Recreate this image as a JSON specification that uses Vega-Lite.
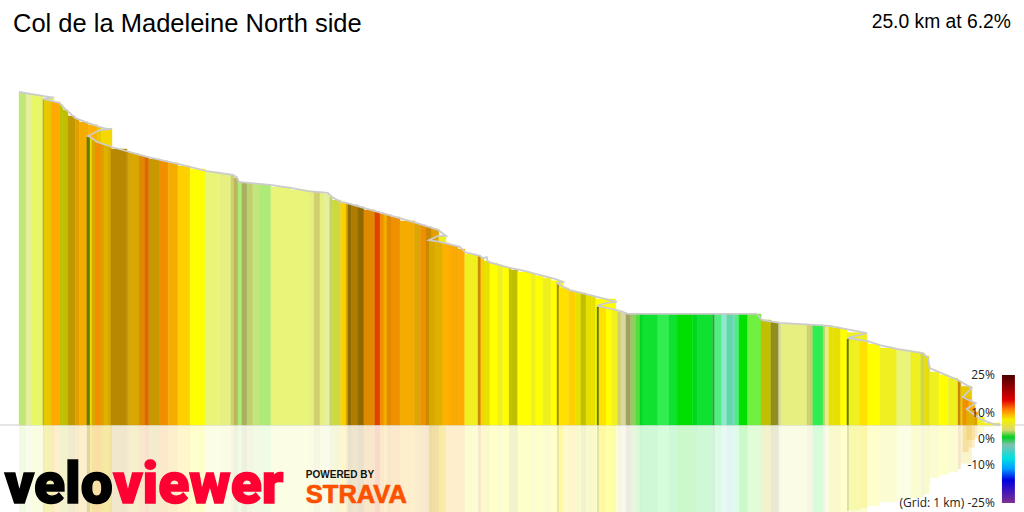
{
  "$schema": "https://vega.github.io/schema/vega-lite/v6.json",
  "description": "Climb profile, coloured by gradient, with a faded reflection under the baseline.",
  "width": 1024,
  "height": 512,
  "padding": 0,
  "autosize": {"type": "none"},
  "background": "white",
  "title": {"text": "Col de la Madeleine North side", "anchor": "start", "frame": "group", "offset": -57, "dx": 13, "baseline": "alphabetic", "font": "Liberation Sans", "fontSize": 25.5, "fontWeight": "normal", "color": "#000000"},
  "config": {"view": {"stroke": null}},
  "datasets": {
    "segments": [
      {"from":0,"to":0.18,"elev":1545,"shade":"s01"},{"from":0.18,"to":0.33,"elev":1541,"shade":"s02"},{"from":0.33,"to":0.61,"elev":1536,"shade":"s03"},{"from":0.61,"to":0.89,"elev":1522,"shade":"s03"},
      {"from":0.61,"to":0.64,"elev":1518,"shade":"s04"},{"from":0.64,"to":0.82,"elev":1513,"shade":"s05"},{"from":0.82,"to":1.04,"elev":1504,"shade":"s06"},{"from":1.04,"to":1.12,"elev":1490,"shade":"s07"},{"from":1.12,"to":1.25,"elev":1466,"shade":"s07"},{"from":1.25,"to":1.43,"elev":1438,"shade":"s08"},{"from":1.43,"to":1.53,"elev":1424,"shade":"s09"},{"from":1.53,"to":1.76,"elev":1410,"shade":"s10"},{"from":1.76,"to":1.99,"elev":1397,"shade":"s52"},{"from":1.99,"to":2.09,"elev":1387,"shade":"s05"},{"from":2.09,"to":2.37,"elev":1378,"shade":"s11"},
      {"from":1.73,"to":1.81,"elev":1341,"shade":"s12"},{"from":1.81,"to":1.86,"elev":1336,"shade":"s13"},{"from":1.86,"to":1.94,"elev":1327,"shade":"s14"},{"from":1.94,"to":2.09,"elev":1313,"shade":"s15"},{"from":2.09,"to":2.17,"elev":1308,"shade":"s09"},{"from":2.17,"to":2.27,"elev":1303,"shade":"s16"},{"from":2.27,"to":2.34,"elev":1299,"shade":"s14"},{"from":2.34,"to":2.75,"elev":1285,"shade":"s17"},{"from":2.75,"to":2.8,"elev":1271,"shade":"s18"},{"from":2.8,"to":2.93,"elev":1266,"shade":"s14"},{"from":2.93,"to":3.06,"elev":1262,"shade":"s14"},{"from":3.06,"to":3.21,"elev":1252,"shade":"s32"},{"from":3.21,"to":3.31,"elev":1248,"shade":"s19"},{"from":3.31,"to":3.59,"elev":1238,"shade":"s18"},{"from":3.59,"to":3.8,"elev":1229,"shade":"s15"},{"from":3.8,"to":4.05,"elev":1220,"shade":"s10"},{"from":4.05,"to":4.36,"elev":1206,"shade":"s20"},{"from":4.36,"to":4.74,"elev":1192,"shade":"s21"},{"from":4.74,"to":5.12,"elev":1178,"shade":"s22"},{"from":5.12,"to":5.4,"elev":1168,"shade":"s23"},{"from":5.4,"to":5.48,"elev":1164,"shade":"s24"},{"from":5.48,"to":5.58,"elev":1150,"shade":"s25"},
      {"from":5.58,"to":5.68,"elev":1131,"shade":"s26"},{"from":5.68,"to":5.81,"elev":1127,"shade":"s27"},{"from":5.81,"to":5.96,"elev":1127,"shade":"s28"},{"from":5.96,"to":6.14,"elev":1122,"shade":"s01"},{"from":6.14,"to":6.42,"elev":1117,"shade":"s26"},{"from":6.42,"to":6.93,"elev":1108,"shade":"s22"},{"from":6.93,"to":7.39,"elev":1094,"shade":"s22"},{"from":7.39,"to":7.52,"elev":1089,"shade":"s23"},{"from":7.52,"to":7.67,"elev":1085,"shade":"s24"},{"from":7.67,"to":7.77,"elev":1085,"shade":"s23"},{"from":7.77,"to":7.92,"elev":1075,"shade":"s02"},{"from":7.92,"to":7.98,"elev":1061,"shade":"s28"},{"from":7.98,"to":8.2,"elev":1047,"shade":"s29"},{"from":8.2,"to":8.33,"elev":1038,"shade":"s20"},{"from":8.33,"to":8.38,"elev":1033,"shade":"s14"},{"from":8.38,"to":8.48,"elev":1029,"shade":"s30"},{"from":8.48,"to":8.64,"elev":1024,"shade":"s31"},{"from":8.64,"to":8.79,"elev":1015,"shade":"s30"},{"from":8.79,"to":9.07,"elev":1001,"shade":"s32"},{"from":9.07,"to":9.2,"elev":992,"shade":"s33"},{"from":9.2,"to":9.3,"elev":987,"shade":"s15"},{"from":9.3,"to":9.38,"elev":982,"shade":"s10"},{"from":9.38,"to":9.48,"elev":978,"shade":"s32"},{"from":9.48,"to":9.71,"elev":968,"shade":"s15"},{"from":9.71,"to":10.09,"elev":950,"shade":"s10"},{"from":10.09,"to":10.17,"elev":940,"shade":"s14"},{"from":10.17,"to":10.24,"elev":936,"shade":"s09"},{"from":10.24,"to":10.37,"elev":931,"shade":"s15"},{"from":10.37,"to":10.52,"elev":922,"shade":"s35"},{"from":10.52,"to":10.7,"elev":912,"shade":"s09"},{"from":10.7,"to":10.88,"elev":880,"shade":"s34"},
      {"from":10.45,"to":10.6,"elev":857,"shade":"s14"},{"from":10.6,"to":10.8,"elev":852,"shade":"s16"},{"from":10.8,"to":10.96,"elev":847,"shade":"s52"},{"from":10.96,"to":11.06,"elev":838,"shade":"s06"},{"from":11.06,"to":11.19,"elev":833,"shade":"s10"},{"from":11.19,"to":11.36,"elev":819,"shade":"s06"},{"from":11.36,"to":11.57,"elev":796,"shade":"s34"},{"from":11.57,"to":11.7,"elev":791,"shade":"s34"},{"from":11.7,"to":11.77,"elev":787,"shade":"s35"},{"from":11.77,"to":11.85,"elev":777,"shade":"s20"},{"from":11.85,"to":12,"elev":763,"shade":"s13"},{"from":12,"to":12.2,"elev":754,"shade":"s21"},{"from":12.2,"to":12.33,"elev":745,"shade":"s34"},{"from":12.33,"to":12.49,"elev":735,"shade":"s21"},{"from":12.49,"to":12.54,"elev":731,"shade":"s07"},{"from":12.54,"to":12.71,"elev":722,"shade":"s07"},{"from":12.71,"to":13.05,"elev":712,"shade":"s21"},{"from":13.05,"to":13.17,"elev":703,"shade":"s34"},{"from":13.17,"to":13.35,"elev":694,"shade":"s21"},{"from":13.35,"to":13.56,"elev":684,"shade":"s34"},{"from":13.56,"to":13.86,"elev":672,"shade":"s21"},
      {"from":13.71,"to":13.76,"elev":656,"shade":"s37"},{"from":13.76,"to":14.01,"elev":638,"shade":"s36"},{"from":14.01,"to":14.19,"elev":624,"shade":"s20"},{"from":14.19,"to":14.32,"elev":619,"shade":"s13"},{"from":14.32,"to":14.45,"elev":614,"shade":"s07"},{"from":14.45,"to":14.6,"elev":605,"shade":"s13"},{"from":14.6,"to":14.7,"elev":600,"shade":"s13"},{"from":14.7,"to":15.21,"elev":587,"shade":"s21"},
      {"from":14.73,"to":14.78,"elev":549,"shade":"s12"},{"from":14.78,"to":14.96,"elev":545,"shade":"s36"},{"from":14.96,"to":15.11,"elev":540,"shade":"s21"},{"from":15.11,"to":15.26,"elev":531,"shade":"s34"},{"from":15.26,"to":15.34,"elev":526,"shade":"s24"},{"from":15.34,"to":15.47,"elev":521,"shade":"s53"},{"from":15.47,"to":15.59,"elev":517,"shade":"s51"},{"from":15.59,"to":15.72,"elev":517,"shade":"s38"},{"from":15.72,"to":15.82,"elev":517,"shade":"s39"},{"from":15.82,"to":15.9,"elev":517,"shade":"s40"},{"from":15.9,"to":16.28,"elev":517,"shade":"s41"},{"from":16.28,"to":16.56,"elev":517,"shade":"s42"},{"from":16.56,"to":16.77,"elev":517,"shade":"s41"},{"from":16.77,"to":17.17,"elev":517,"shade":"s43"},{"from":17.17,"to":17.28,"elev":517,"shade":"s40"},{"from":17.28,"to":17.68,"elev":517,"shade":"s41"},{"from":17.68,"to":17.73,"elev":517,"shade":"s44"},{"from":17.73,"to":17.91,"elev":517,"shade":"s45"},{"from":17.91,"to":18.04,"elev":517,"shade":"s46"},{"from":18.04,"to":18.17,"elev":517,"shade":"s47"},{"from":18.17,"to":18.24,"elev":517,"shade":"s48"},{"from":18.24,"to":18.35,"elev":517,"shade":"s45"},{"from":18.35,"to":18.57,"elev":517,"shade":"s43"},{"from":18.57,"to":18.91,"elev":517,"shade":"s49"},{"from":18.91,"to":19.16,"elev":489,"shade":"s07"},{"from":19.16,"to":19.36,"elev":479,"shade":"s50"},{"from":19.36,"to":19.42,"elev":475,"shade":"s53"},{"from":19.42,"to":20.08,"elev":470,"shade":"s23"},{"from":20.08,"to":20.15,"elev":465,"shade":"s24"},{"from":20.15,"to":20.23,"elev":465,"shade":"s28"},{"from":20.23,"to":20.49,"elev":465,"shade":"s42"},{"from":20.49,"to":20.54,"elev":461,"shade":"s28"},{"from":20.54,"to":20.64,"elev":461,"shade":"s23"},{"from":20.64,"to":20.74,"elev":456,"shade":"s13"},{"from":20.74,"to":20.94,"elev":452,"shade":"s13"},{"from":20.94,"to":21.1,"elev":447,"shade":"s21"},{"from":21.1,"to":21.61,"elev":430,"shade":"s34"},
      {"from":21.1,"to":21.15,"elev":400,"shade":"s12"},{"from":21.15,"to":21.43,"elev":396,"shade":"s34"},{"from":21.43,"to":21.63,"elev":386,"shade":"s36"},{"from":21.63,"to":21.94,"elev":377,"shade":"s21"},{"from":21.94,"to":22.37,"elev":358,"shade":"s34"},{"from":22.37,"to":22.73,"elev":349,"shade":"s22"},{"from":22.73,"to":22.98,"elev":340,"shade":"s34"},{"from":22.98,"to":23.08,"elev":335,"shade":"s29"},{"from":23.08,"to":23.19,"elev":321,"shade":"s13"},{"from":23.19,"to":23.21,"elev":279,"shade":"s24"},{"from":23.21,"to":23.45,"elev":247,"shade":"s34"},{"from":23.45,"to":23.68,"elev":233,"shade":"s21"},{"from":23.68,"to":23.93,"elev":219,"shade":"s34"},{"from":23.93,"to":24,"elev":205,"shade":"s35"},{"from":24,"to":24.28,"elev":180,"shade":"s05"},
      {"from":24.05,"to":24.2,"elev":126,"shade":"s15"},{"from":24.2,"to":24.36,"elev":105,"shade":"s06"},{"from":24.15,"to":24.36,"elev":70,"shade":"s16"},{"from":24.36,"to":24.43,"elev":61,"shade":"s09"},{"from":24.43,"to":24.6,"elev":37,"shade":"s34"},{"from":24.6,"to":25,"elev":9,"shade":"s34"}
    ],
    "profile": [
      {"seq":1,"km":0,"elev":1550},{"seq":2,"km":0.64,"elev":1531},{"seq":3,"km":0.89,"elev":1524},{"seq":4,"km":0.61,"elev":1518},{"seq":5,"km":1.04,"elev":1499},{"seq":6,"km":1.12,"elev":1480},{"seq":7,"km":1.3,"elev":1452},{"seq":8,"km":1.43,"elev":1429},{"seq":9,"km":1.76,"elev":1406},{"seq":10,"km":2.06,"elev":1387},{"seq":11,"km":2.24,"elev":1378},{"seq":12,"km":2.37,"elev":1378},{"seq":13,"km":2.06,"elev":1373},{"seq":14,"km":1.76,"elev":1345},{"seq":15,"km":1.86,"elev":1336},{"seq":16,"km":1.99,"elev":1317},{"seq":17,"km":2.37,"elev":1294},{"seq":18,"km":3.26,"elev":1248},{"seq":19,"km":4.05,"elev":1215},{"seq":20,"km":4.79,"elev":1182},{"seq":21,"km":5.45,"elev":1164},{"seq":22,"km":5.55,"elev":1154},{"seq":23,"km":5.61,"elev":1131},{"seq":24,"km":6.14,"elev":1122},{"seq":25,"km":6.45,"elev":1117},{"seq":26,"km":6.96,"elev":1103},{"seq":27,"km":7.36,"elev":1089},{"seq":28,"km":7.87,"elev":1080},{"seq":29,"km":7.98,"elev":1061},{"seq":30,"km":8.2,"elev":1038},{"seq":31,"km":8.36,"elev":1033},{"seq":32,"km":9.07,"elev":996},{"seq":33,"km":10.14,"elev":940},{"seq":34,"km":10.68,"elev":908},{"seq":35,"km":10.88,"elev":880},{"seq":36,"km":10.68,"elev":880},{"seq":37,"km":10.45,"elev":861},{"seq":38,"km":10.73,"elev":852},{"seq":39,"km":11.24,"elev":829},{"seq":40,"km":11.36,"elev":805},{"seq":41,"km":11.75,"elev":787},{"seq":42,"km":11.82,"elev":777},{"seq":43,"km":11.92,"elev":782},{"seq":44,"km":11.95,"elev":759},{"seq":45,"km":12.51,"elev":731},{"seq":46,"km":12.77,"elev":722},{"seq":47,"km":13.66,"elev":680},{"seq":48,"km":13.86,"elev":666},{"seq":49,"km":13.71,"elev":661},{"seq":50,"km":13.78,"elev":652},{"seq":51,"km":14.04,"elev":628},{"seq":52,"km":14.73,"elev":596},{"seq":53,"km":15.24,"elev":573},{"seq":54,"km":14.98,"elev":568},{"seq":55,"km":14.73,"elev":554},{"seq":56,"km":14.98,"elev":545},{"seq":57,"km":15.31,"elev":531},{"seq":58,"km":15.52,"elev":517},{"seq":59,"km":18.8,"elev":517},{"seq":60,"km":18.93,"elev":489},{"seq":61,"km":19.39,"elev":475},{"seq":62,"km":20.66,"elev":461},{"seq":63,"km":21.61,"elev":428},{"seq":64,"km":21.12,"elev":405},{"seq":65,"km":21.61,"elev":391},{"seq":66,"km":21.94,"elev":372},{"seq":67,"km":22.37,"elev":354},{"seq":68,"km":23.03,"elev":335},{"seq":69,"km":23.16,"elev":312},{"seq":70,"km":23.21,"elev":265},{"seq":71,"km":23.93,"elev":209},{"seq":72,"km":24.28,"elev":172},{"seq":73,"km":24.05,"elev":130},{"seq":74,"km":24.38,"elev":102},{"seq":75,"km":24.15,"elev":74},{"seq":76,"km":24.49,"elev":28},{"seq":77,"km":24.82,"elev":5},{"seq":78,"km":25,"elev":0}
    ]
  },
  "resolve": {"scale": {"y": "independent"}},
  "layer": [
    {
      "data": {"name": "segments"},
      "mark": {"type": "rect", "opacity": 0.2},
      "encoding": {
        "x": {"field": "from", "type": "quantitative", "scale": {"domain": [0, 25], "range": [19, 1000]}, "axis": null},
        "x2": {"field": "to"},
        "y": {"field": "elev", "type": "quantitative", "scale": {"domain": [0, 1550], "range": [425, 758]}, "axis": null},
        "y2": {"datum": 0},
        "color": {"field": "shade", "type": "nominal", "legend": null, "scale": {
          "domain": ["s01","s02","s03","s04","s05","s06","s07","s08","s09","s10","s11","s12","s13","s14","s15","s16","s17","s18","s19","s20","s21","s22","s23","s24","s25","s26","s27","s28","s29","s30","s31","s32","s33","s34","s35","s36","s37","s38","s39","s40","s41","s42","s43","s44","s45","s46","s47","s48","s49","s50","s51","s52","s53"],
          "range": ["#c3e67a","#e6ef9a","#e9f765","#a8a850","#e8c800","#ffaa00","#c0c000","#c09800","#e0a000","#f5ac00","#f5d800","#5f7a00","#e8e000","#d8a800","#f09000","#e0b000","#b88800","#c89800","#e06800","#ffd000","#ffff00","#e9f578","#e6ef80","#d0d070","#b8b860","#aeea78","#a8b060","#c0d070","#d0d840","#8f6a00","#b07c00","#e08800","#e04000","#f0f020","#c88800","#ffe000","#a08c00","#90d060","#50e040","#00d820","#10e030","#30ee50","#00e000","#30a040","#50ee80","#90e8d0","#60d8a8","#70d8c0","#70f040","#8f8f20","#a0a060","#ffb000","#d8d8a0"]
        }}
      }
    },
    {
      "data": {"values": [{"km": 0, "elev": 0}]},
      "mark": {"type": "rule", "color": "#dddddd", "strokeWidth": 1.5},
      "encoding": {
        "y": {"field": "elev", "type": "quantitative", "scale": {"domain": [0, 1550], "range": [425, 92]}, "axis": null}
      }
    },
    {
      "data": {"name": "segments"},
      "mark": {"type": "rect", "strokeWidth": 0.4},
      "encoding": {
        "x": {"field": "from", "type": "quantitative", "scale": {"domain": [0, 25], "range": [19, 1000]}, "axis": null},
        "x2": {"field": "to"},
        "y": {"field": "elev", "type": "quantitative", "scale": {"domain": [0, 1550], "range": [425, 92]}, "axis": null},
        "y2": {"datum": 0},
        "color": {"field": "shade", "type": "nominal", "legend": null},
        "stroke": {"field": "shade", "type": "nominal", "legend": null, "scale": {
          "domain": ["s01","s02","s03","s04","s05","s06","s07","s08","s09","s10","s11","s12","s13","s14","s15","s16","s17","s18","s19","s20","s21","s22","s23","s24","s25","s26","s27","s28","s29","s30","s31","s32","s33","s34","s35","s36","s37","s38","s39","s40","s41","s42","s43","s44","s45","s46","s47","s48","s49","s50","s51","s52","s53"],
          "range": ["#c3e67a","#e6ef9a","#e9f765","#a8a850","#e8c800","#ffaa00","#c0c000","#c09800","#e0a000","#f5ac00","#f5d800","#5f7a00","#e8e000","#d8a800","#f09000","#e0b000","#b88800","#c89800","#e06800","#ffd000","#ffff00","#e9f578","#e6ef80","#d0d070","#b8b860","#aeea78","#a8b060","#c0d070","#d0d840","#8f6a00","#b07c00","#e08800","#e04000","#f0f020","#c88800","#ffe000","#a08c00","#90d060","#50e040","#00d820","#10e030","#30ee50","#00e000","#30a040","#50ee80","#90e8d0","#60d8a8","#70d8c0","#70f040","#8f8f20","#a0a060","#ffb000","#d8d8a0"]
        }}
      }
    },
    {
      "data": {"name": "profile"},
      "mark": {"type": "line", "color": "#cccccc", "strokeWidth": 1.8},
      "encoding": {
        "x": {"field": "km", "type": "quantitative", "scale": {"domain": [0, 25], "range": [19, 1000]}, "axis": null},
        "y": {"field": "elev", "type": "quantitative", "scale": {"domain": [0, 1550], "range": [425, 92]}, "axis": null},
        "order": {"field": "seq", "type": "quantitative"}
      }
    },
    {
      "data": {"values": [{"km": 25.28, "elev": 1848, "text": "25.0 km at 6.2%"}]},
      "mark": {"type": "text", "align": "right", "baseline": "alphabetic", "font": "Liberation Sans", "fontSize": 19.3, "color": "#000000"},
      "encoding": {
        "x": {"field": "km", "type": "quantitative", "scale": {"domain": [0, 25], "range": [19, 1000]}, "axis": null},
        "y": {"field": "elev", "type": "quantitative", "scale": {"domain": [0, 1550], "range": [425, 92]}, "axis": null},
        "text": {"field": "text"}
      }
    },
    {
      "data": {"values": [{"km": -0.36, "elev": -363, "text": "velo"}]},
      "mark": {"type": "text", "align": "left", "baseline": "alphabetic", "font": "Roboto", "fontWeight": 900, "fontSize": 57, "color": "#000000", "stroke": "#000000", "strokeWidth": 1.5},
      "encoding": {
        "x": {"field": "km", "type": "quantitative", "scale": {"domain": [0, 25], "range": [19, 1000]}, "axis": null},
        "y": {"field": "elev", "type": "quantitative", "scale": {"domain": [0, 1550], "range": [425, 92]}, "axis": null},
        "text": {"field": "text"}
      }
    },
    {
      "data": {"values": [{"km": 2.4, "elev": -363, "text": "viewer"}]},
      "mark": {"type": "text", "align": "left", "baseline": "alphabetic", "font": "Roboto", "fontWeight": 900, "fontSize": 57, "color": "#ff0033", "stroke": "#ff0033", "strokeWidth": 1.5},
      "encoding": {
        "x": {"field": "km", "type": "quantitative", "scale": {"domain": [0, 25], "range": [19, 1000]}, "axis": null},
        "y": {"field": "elev", "type": "quantitative", "scale": {"domain": [0, 1550], "range": [425, 92]}, "axis": null},
        "text": {"field": "text"}
      }
    },
    {
      "data": {"values": [{"km": 7.31, "elev": -247, "text": "POWERED BY"}]},
      "mark": {"type": "text", "align": "left", "baseline": "alphabetic", "font": "Liberation Sans", "fontWeight": "bold", "fontSize": 10, "color": "#111111"},
      "encoding": {
        "x": {"field": "km", "type": "quantitative", "scale": {"domain": [0, 25], "range": [19, 1000]}, "axis": null},
        "y": {"field": "elev", "type": "quantitative", "scale": {"domain": [0, 1550], "range": [425, 92]}, "axis": null},
        "text": {"field": "text"}
      }
    },
    {
      "data": {"values": [{"km": 7.31, "elev": -363, "text": "STRAVA"}]},
      "mark": {"type": "text", "align": "left", "baseline": "alphabetic", "font": "Liberation Sans", "fontWeight": "bold", "fontSize": 25.5, "color": "#fc5200", "stroke": "#fc5200", "strokeWidth": 0.7},
      "encoding": {
        "x": {"field": "km", "type": "quantitative", "scale": {"domain": [0, 25], "range": [19, 1000]}, "axis": null},
        "y": {"field": "elev", "type": "quantitative", "scale": {"domain": [0, 1550], "range": [425, 92]}, "axis": null},
        "text": {"field": "text"}
      }
    },
    {
      "data": {"values": [{"km": 25.05, "km2": 25.38, "top": 25, "bottom": -25}]},
      "mark": {"type": "rect", "fill": {"gradient": "linear", "x1": 0, "y1": 0, "x2": 0, "y2": 1, "stops": [
        {"offset": 0, "color": "#4a0000"},
        {"offset": 0.195, "color": "#e00000"},
        {"offset": 0.27, "color": "#ff8000"},
        {"offset": 0.35, "color": "#f5f000"},
        {"offset": 0.43, "color": "#d8d870"},
        {"offset": 0.485, "color": "#00d020"},
        {"offset": 0.547, "color": "#80c0b0"},
        {"offset": 0.65, "color": "#00e0e0"},
        {"offset": 0.73, "color": "#00a0ff"},
        {"offset": 0.82, "color": "#0000e0"},
        {"offset": 1, "color": "#803090"}
      ]}},
      "encoding": {
        "x": {"field": "km", "type": "quantitative", "scale": {"domain": [0, 25], "range": [19, 1000]}, "axis": null},
        "x2": {"field": "km2"},
        "y": {"field": "top", "type": "quantitative", "scale": {"domain": [-25, 25], "range": [503, 375]}, "axis": null},
        "y2": {"field": "bottom"}
      }
    },
    {
      "data": {"values": [
        {"km": 24.87, "grade": 25, "text": "25%"},
        {"km": 24.87, "grade": 10, "text": "10%"},
        {"km": 24.87, "grade": 0, "text": "0%"},
        {"km": 24.87, "grade": -10, "text": "-10%"},
        {"km": 24.87, "grade": -25, "text": "(Grid: 1 km) -25%"}
      ]},
      "mark": {"type": "text", "align": "right", "baseline": "middle", "font": "Open Sans", "fontSize": 12, "color": "#222222"},
      "encoding": {
        "x": {"field": "km", "type": "quantitative", "scale": {"domain": [0, 25], "range": [19, 1000]}, "axis": null},
        "y": {"field": "grade", "type": "quantitative", "scale": {"domain": [-25, 25], "range": [503, 375]}, "axis": null},
        "text": {"field": "text"}
      }
    }
  ]
}
